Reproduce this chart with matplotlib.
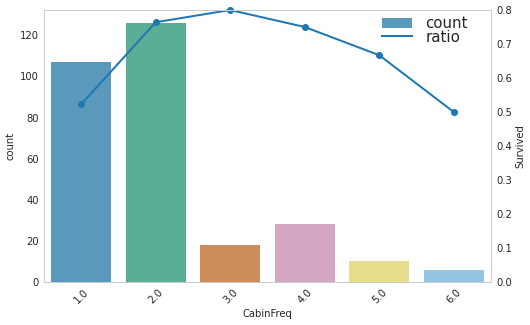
import matplotlib
matplotlib.use("Agg")
import matplotlib.pyplot as plt
from matplotlib.lines import Line2D
import numpy as np

cabin_freq = ["1.0", "2.0", "3.0", "4.0", "5.0", "6.0"]
counts = [107, 126, 18, 28, 10, 6]
ratio = [0.523, 0.764, 0.80, 0.75, 0.667, 0.50]
bar_colors = ["#5b99bc", "#5aae96", "#cd8d5a", "#d4a8c3", "#e6de8c", "#92c6e2"]

plt.rcParams["font.family"] = "DejaVu Sans"
plt.rcParams["text.color"] = "#262626"
plt.rcParams["axes.labelcolor"] = "#262626"
plt.rcParams["xtick.color"] = "#262626"
plt.rcParams["ytick.color"] = "#262626"

fig = plt.figure(figsize=(530 / 72, 325 / 72), dpi=72)
ax = fig.add_axes([44 / 530, 1 - 282 / 325, 447 / 530, 272 / 325])

x = np.arange(len(cabin_freq))
bars = ax.bar(x, counts, width=0.8, color=bar_colors, label="count")
ax.set_xlim(-0.5, len(x) - 0.5)
ax.set_ylim(0, max(counts) * 1.05)
ax.set_xticks(x)
ax.set_xticklabels(cabin_freq, rotation=45)
ax.set_xlabel("CabinFreq", fontsize=10)
ax.set_ylabel("count", fontsize=10)

ax2 = ax.twinx()
ax2.plot(x, ratio, color="#1f77b4", lw=2, marker="o", ms=6, clip_on=False)
ax2.set_ylim(0, 0.8)
ax2.set_ylabel("Survived", fontsize=10)

for a in (ax, ax2):
    a.grid(False)
    a.tick_params(length=0, labelsize=10, pad=5)
    for s in a.spines.values():
        s.set_color("#cccccc")
        s.set_linewidth(1)

line_handle = Line2D([], [], color="#1f77b4", lw=2)
ax2.legend([bars, line_handle], ["count", "ratio"], loc="upper right", frameon=False,
           fontsize=15, borderaxespad=0.1, handlelength=2.0, labelspacing=-0.1,
           handletextpad=0.9, bbox_to_anchor=(0.965, 1.005))

fig.savefig("out.png", dpi=72)
